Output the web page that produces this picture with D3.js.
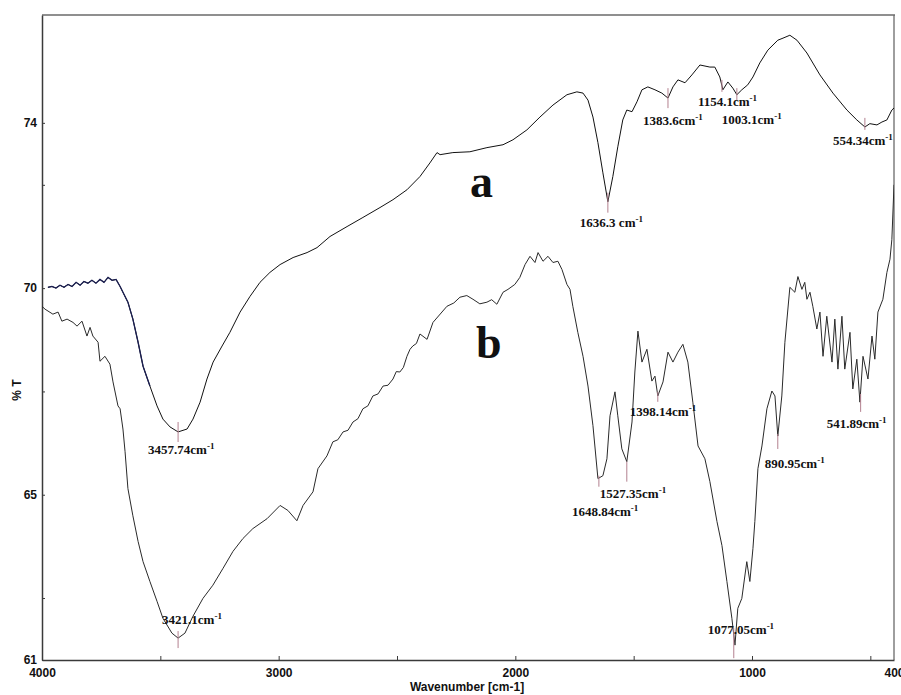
<!DOCTYPE html>
<html lang="en">
<head>
<meta charset="UTF-8">
<title>FTIR spectra a and b</title>
<script src="https://cdnjs.cloudflare.com/ajax/libs/d3/7.8.5/d3.min.js"></script>
<style>
  body { margin: 0; background: #fff; }
</style>
</head>
<body>
<div id="chart"></div>
<script>
// spectrum a (upper curve), wavenumber [cm-1] and %T
var aWavenumber = [3975, 3958, 3941, 3924, 3907, 3890, 3873, 3856, 3839, 3823, 3806, 3789, 3772, 3755, 3738, 3721, 3704, 3687, 3670,
  3658, 3637, 3616, 3594, 3573, 3544, 3514, 3489, 3459, 3425, 3387, 3362, 3332, 3303, 3277, 3239, 3206, 3163, 3121, 3079,
  3037, 2994, 2939, 2880, 2838, 2783, 2711, 2644, 2572, 2517, 2458, 2403, 2361, 2331, 2318, 2264, 2192, 2120, 2052, 2010,
  1951, 1896, 1841, 1782, 1740, 1714, 1693, 1672, 1651, 1630, 1609, 1588, 1567, 1546, 1529, 1507, 1486, 1465, 1440, 1410,
  1381, 1355, 1334, 1313, 1283, 1254, 1220, 1178, 1157, 1136, 1123, 1102, 1081, 1064, 1043, 1018, 996, 967, 933, 891,
  869, 840, 810, 768, 713, 658, 599, 557, 523, 502, 472, 451, 430, 409, 400];
var aTransmittance = [70.02, 70.04, 70.00, 70.07, 70.02, 70.09, 70.04, 70.14, 70.07, 70.16, 70.12, 70.19, 70.12, 70.21, 70.14, 70.26, 70.19, 70.21, 70.04,
  69.90, 69.66, 69.25, 68.69, 68.11, 67.63, 67.15, 66.83, 66.64, 66.52, 66.59, 66.83, 67.24, 67.80, 68.21, 68.60, 68.93, 69.42, 69.80, 70.14,
  70.38, 70.57, 70.74, 70.86, 70.98, 71.25, 71.49, 71.71, 71.95, 72.14, 72.38, 72.70, 73.03, 73.28, 73.23, 73.28, 73.30, 73.40, 73.47, 73.59,
  73.83, 74.14, 74.43, 74.68, 74.75, 74.72, 74.55, 74.14, 73.52, 72.79, 72.09, 72.70, 73.42, 74.07, 74.31, 74.27, 74.51, 74.80, 74.87, 74.80,
  74.72, 74.60, 74.87, 75.04, 74.97, 75.16, 75.40, 75.35, 75.35, 75.11, 74.80, 74.99, 74.84, 74.68, 74.80, 74.92, 75.11, 75.45, 75.76, 76.00,
  76.05, 76.12, 76.00, 75.69, 75.16, 74.72, 74.31, 74.07, 73.90, 73.98, 73.95, 74.02, 74.07, 74.31, 74.36];

// spectrum b (lower curve)
var bWavenumber = [4000, 3987, 3954, 3932, 3916, 3894, 3869, 3852, 3831, 3810, 3797, 3785, 3763, 3755, 3734, 3713, 3700, 3679, 3670,
  3658, 3649, 3637, 3616, 3594, 3573, 3544, 3514, 3489, 3451, 3425, 3396, 3362, 3320, 3278, 3235, 3193, 3151, 3109, 3049,
  2994, 2961, 2923, 2897, 2855, 2834, 2796, 2771, 2750, 2728, 2707, 2686, 2665, 2644, 2623, 2602, 2580, 2559, 2538, 2517,
  2503, 2488, 2473, 2458, 2445, 2433, 2418, 2403, 2373, 2348, 2289, 2260, 2234, 2205, 2179, 2150, 2120, 2100, 2078, 2052,
  2031, 2002, 1981, 1959, 1938, 1917, 1904, 1883, 1862, 1841, 1820, 1803, 1782, 1769, 1757, 1736, 1714, 1693, 1672, 1651,
  1630, 1613, 1600, 1579, 1567, 1550, 1529, 1507, 1495, 1482, 1465, 1444, 1423, 1410, 1398, 1376, 1355, 1334, 1313, 1292,
  1271, 1250, 1228, 1199, 1178, 1148, 1127, 1106, 1085, 1072, 1060, 1043, 1022, 1009, 996, 988, 975, 958, 937, 916,
  903, 891, 874, 861, 840, 819, 806, 789, 777, 768, 755, 743, 726, 713, 700, 684, 662, 650, 637, 620,
  608, 586, 574, 557, 544, 531, 510, 493, 481, 468, 447, 430, 417, 409, 400];
var bTransmittance = [69.56, 69.49, 69.37, 69.42, 69.20, 69.25, 69.17, 69.08, 69.20, 68.84, 69.05, 68.84, 68.69, 68.23, 68.35, 68.16, 67.73, 67.15, 67.08,
  66.59, 66.04, 65.15, 64.49, 63.87, 63.38, 62.90, 62.42, 62.01, 61.65, 61.53, 61.65, 62.06, 62.49, 62.81, 63.22, 63.63, 63.94, 64.18, 64.42,
  64.74, 64.62, 64.37, 64.74, 65.07, 65.63, 65.94, 66.28, 66.33, 66.52, 66.56, 66.76, 66.84, 67.08, 67.15, 67.39, 67.44, 67.63, 67.65, 67.80,
  67.98, 67.97, 68.08, 68.35, 68.52, 68.60, 68.66, 68.89, 68.76, 69.17, 69.56, 69.64, 69.78, 69.82, 69.73, 69.62, 69.66, 69.72, 69.61, 69.90,
  69.97, 70.09, 70.26, 70.57, 70.77, 70.62, 70.86, 70.65, 70.77, 70.62, 70.65, 70.45, 70.09, 69.97, 69.56, 68.93, 68.35, 67.63, 66.67, 65.39,
  65.46, 65.87, 66.91, 67.49, 66.91, 66.11, 65.80, 66.76, 67.97, 68.96, 68.21, 68.52, 67.75, 67.87, 67.39, 67.73, 68.45, 68.21, 68.45, 68.64,
  68.21, 67.24, 66.18, 65.87, 65.32, 64.35, 63.77, 62.90, 62.01, 61.36, 62.25, 62.49, 63.38, 62.90, 63.70, 64.35, 65.63, 66.18, 67.08, 67.51,
  67.39, 66.42, 67.39, 68.69, 70.02, 69.90, 70.28, 69.97, 70.14, 69.73, 69.90, 69.56, 69.01, 69.42, 68.35, 69.32, 68.21, 69.25, 68.04, 69.32,
  68.04, 68.93, 67.56, 68.28, 67.24, 68.35, 67.80, 68.84, 68.28, 69.42, 69.73, 70.38, 70.70, 71.18, 72.50];

// peak annotations
var peakLabels = ['3457.74cm', '1636.3 cm', '1383.6cm', '1154.1cm', '1003.1cm', '554.34cm',
  '3421.1cm', '1648.84cm', '1527.35cm', '1398.14cm', '1077.05cm', '890.95cm', '541.89cm'];
var peakWavenumber = [3425, 1609, 1355, 1127, 1064, 523, 3425, 1647, 1529, 1398, 1077, 891, 541];
var peakTransmittance = [66.76, 72.31, 74.84, 75.04, 74.84, 74.12, 61.70, 65.46, 65.80, 67.49, 61.77, 66.47, 67.44];

// axes
var xTicks = [4000, 3500, 3000, 2500, 2000, 1500, 1000, 500];
var xLabelled = [4000, 3000, 2000, 1000, 400];
var yTicks = [61, 62.5, 65, 67.5, 70, 72.5, 74];
var yLabelled = [61, 65, 70, 74];

// layout (pixels): marker length, label offset from the marker top
var markerLen = [20, 20, 20, 12, 12, 12, 17, 11, 20, 10, 30, 15, 18];
var labelDx = [-30, -28, -25, -24, -15, -32, -16, -27, -27, -28, -26, -13, -34];
var labelDy = [32, 34, 37, 26, 36, 27, -7, 40, 36, 24, 6, 34, 34];

var width = 901;
var height = 695;
var plot = { left: 42, right: 894, top: 15, bottom: 660 };

var svg = d3.select('#chart')
  .append('svg')
  .attr('width', width)
  .attr('height', height)
  .style('display', 'block');

var x = d3.scaleLinear().domain([4000, 400]).range([plot.left, plot.right]);
var y = d3.scaleLinear().domain([61, 76.61]).range([plot.bottom, plot.top]);

var axisFont = "'Liberation Sans Narrow', 'Liberation Sans', Arial, sans-serif";
var serifFont = "'Liberation Serif', 'Times New Roman', serif";

svg.append('clipPath').attr('id', 'plotclip')
  .append('rect')
  .attr('x', plot.left).attr('y', plot.top - 2)
  .attr('width', plot.right - plot.left).attr('height', plot.bottom - plot.top + 2);

// frame
svg.append('line').attr('x1', plot.left).attr('x2', plot.right + 1).attr('y1', plot.top).attr('y2', plot.top)
  .attr('stroke', '#6a6a6a').attr('stroke-width', 1.6);
svg.append('line').attr('x1', plot.right).attr('x2', plot.right).attr('y1', plot.top).attr('y2', plot.bottom)
  .attr('stroke', '#6a6a6a').attr('stroke-width', 1.3);

// x axis
var xAxis = svg.append('g')
  .attr('transform', 'translate(0,' + plot.bottom + ')')
  .call(d3.axisBottom(x)
    .tickValues(xTicks.concat([400]))
    .tickSizeInner(-4)
    .tickSizeOuter(0)
    .tickPadding(8)
    .tickFormat(function(d) { return xLabelled.indexOf(d) >= 0 ? d : ''; }));
xAxis.select('.domain').attr('stroke', '#3a3a3a').attr('stroke-width', 1.5);
xAxis.selectAll('.tick line').attr('stroke', '#3a3a3a')
  .filter(function(d) { return d === 400; }).remove();
xAxis.selectAll('.tick text')
  .attr('font-family', axisFont).attr('font-weight', 'bold').attr('font-size', 12).attr('fill', '#111');

// y axis
var yAxis = svg.append('g')
  .attr('transform', 'translate(' + plot.left + ',0)')
  .call(d3.axisLeft(y)
    .tickValues(yTicks)
    .tickSizeInner(-3)
    .tickSizeOuter(0)
    .tickPadding(5)
    .tickFormat(function(d) { return yLabelled.indexOf(d) >= 0 ? d : ''; }));
yAxis.select('.domain').attr('stroke', '#3a3a3a').attr('stroke-width', 1.5);
yAxis.selectAll('.tick line').attr('stroke', '#3a3a3a');
yAxis.selectAll('.tick text')
  .attr('font-family', axisFont).attr('font-weight', 'bold').attr('font-size', 12).attr('fill', '#111');

// axis titles
svg.append('text')
  .attr('x', 467).attr('y', 691)
  .attr('text-anchor', 'middle')
  .attr('font-family', axisFont).attr('font-weight', 'bold').attr('font-size', 12)
  .attr('fill', '#111')
  .text('Wavenumber [cm-1]');

svg.append('text')
  .attr('transform', 'translate(21,390) rotate(-90)')
  .attr('text-anchor', 'middle')
  .attr('font-family', axisFont).attr('font-weight', 'bold').attr('font-size', 12)
  .attr('fill', '#111')
  .text('% T');

// curves
var line = d3.line()
  .x(function(d) { return x(d[0]); })
  .y(function(d) { return y(d[1]); });

var aData = d3.zip(aWavenumber, aTransmittance);
var bData = d3.zip(bWavenumber, bTransmittance);

var g = svg.append('g').attr('clip-path', 'url(#plotclip)');

g.append('path')
  .datum(bData)
  .attr('d', line)
  .attr('fill', 'none')
  .attr('stroke', '#2a2a2a')
  .attr('stroke-width', 1);

g.append('path')
  .datum(aData)
  .attr('d', line)
  .attr('fill', 'none')
  .attr('stroke', '#111')
  .attr('stroke-width', 1);

// noisy start of spectrum a is drawn in dark blue
g.append('path')
  .datum(aData.filter(function(d) { return d[0] >= 3540; }))
  .attr('d', line)
  .attr('fill', 'none')
  .attr('stroke', '#1b1f52')
  .attr('stroke-width', 1.3);

// peak markers and labels
var peaks = peakLabels.map(function(label, i) {
  return { label: label, wn: peakWavenumber[i], t: peakTransmittance[i], len: markerLen[i], dx: labelDx[i], dy: labelDy[i] };
});

g.selectAll('line.marker')
  .data(peaks)
  .enter()
  .append('line')
  .attr('class', 'marker')
  .attr('x1', function(d) { return x(d.wn); })
  .attr('x2', function(d) { return x(d.wn); })
  .attr('y1', function(d) { return y(d.t); })
  .attr('y2', function(d) { return y(d.t) + d.len; })
  .attr('stroke', '#b3808f')
  .attr('stroke-width', 1);

var labels = g.selectAll('text.peak')
  .data(peaks)
  .enter()
  .append('text')
  .attr('class', 'peak')
  .attr('x', function(d) { return x(d.wn) + d.dx; })
  .attr('y', function(d) { return y(d.t) + d.dy; })
  .attr('font-family', serifFont)
  .attr('font-weight', 'bold')
  .attr('font-size', 13)
  .attr('fill', '#111');
labels.append('tspan').text(function(d) { return d.label; });
labels.append('tspan').attr('dy', -5).attr('font-size', 9).text('-1');

// series letters
svg.append('text')
  .attr('x', x(2192)).attr('y', y(72.21))
  .attr('font-family', serifFont).attr('font-weight', 'bold').attr('font-size', 46)
  .attr('fill', '#111')
  .text('a');

svg.append('text')
  .attr('x', x(2166)).attr('y', y(68.31))
  .attr('font-family', serifFont).attr('font-weight', 'bold').attr('font-size', 46)
  .attr('fill', '#111')
  .text('b');
</script>
</body>
</html>
